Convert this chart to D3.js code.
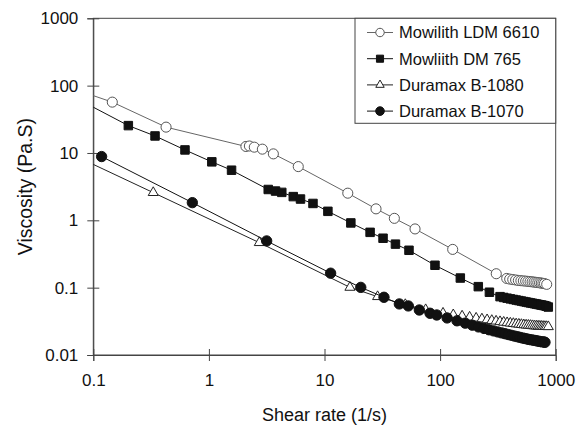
<!DOCTYPE html>
<html>
<head>
<meta charset="utf-8">
<script src="https://cdn.jsdelivr.net/npm/d3@7"></script>
<style>
  body { margin: 0; background: #fff; }
  text { font-family: "Liberation Sans", Arial, Helvetica, sans-serif; }
</style>
</head>
<body>
<svg id="mainsvg" width="587" height="427"></svg>
<script>
// values: [shear rate (1/s), viscosity (Pa.S)]
const ldm6610 = [[0.08,81],[0.146,56.9],[0.426,24.2],[2.09,12.5],[2.24,12.7],[2.47,12.2],[2.90,11.4],[3.61,9.7],[5.93,6.28],[15.9,2.53],[27.9,1.48],[40.2,1.07],[60.7,0.745],[128.5,0.37],[306,0.161],
  [377,0.137],[400,0.134],[425,0.132],[450,0.130],[475,0.128],[500,0.127],[525,0.126],[550,0.125],[575,0.124],[600,0.123],[625,0.122],[650,0.121],[675,0.120],[700,0.119],[725,0.118],[750,0.117],[775,0.116],[800,0.115],[836,0.112]]
const dm765 = [[0.08,58.5],[0.201,25.5],[0.342,17.9],[0.621,11.1],[1.06,7.38],[1.57,5.55],[3.26,2.87],[3.77,2.72],[4.27,2.60],[5.37,2.25],[6.20,2.07],[7.95,1.78],[10.7,1.36],[16.9,0.915],[24.8,0.663],[32.1,0.542],[41.1,0.443],[53.8,0.359],[90.3,0.215],[149.6,0.139],[214,0.1035],[267,0.0855],
  [330,0.0735],[355,0.0715],[380,0.0698],[405,0.0682],[430,0.0668],[455,0.0655],[480,0.0643],[505,0.0632],[530,0.0621],[555,0.0611],[580,0.0602],[605,0.0594],[630,0.0586],[655,0.0578],[680,0.0571],[705,0.0564],[730,0.0557],[755,0.0551],[780,0.0545],[805,0.0539],[830,0.0530],[863,0.0515]]
const b1080 = [[0.08,8.1],[0.330,2.58],[2.73,0.466],[16.6,0.101],[28.8,0.0735],[50,0.056],[75,0.047],
  [106,0.0417],[130,0.0395],[155,0.0378],[180,0.0364],[205,0.0352],[230,0.0342],[255,0.0333],[280,0.0325],[305,0.0318],[330,0.0312],[355,0.0306],[380,0.0301],[405,0.0297],[430,0.0293],[455,0.0289],[480,0.0286],[505,0.0283],[530,0.0280],[555,0.0278],[580,0.0276],[605,0.0274],[630,0.0272],[655,0.0270],[680,0.0269],[705,0.0268],[730,0.0267],[755,0.0266],[780,0.0265],[805,0.0264],[830,0.0264],[863,0.0263]]
const b1070 = [[0.118,8.85],[0.719,1.83],[3.16,0.494],[11.3,0.164],[20.6,0.101],[32.7,0.072],[44.4,0.0573],[53.1,0.0535],[66.1,0.0466],[81.8,0.0417],[93.5,0.0393],
  [115,0.0355],[140,0.0322],[165,0.0297],[190,0.0277],[215,0.0261],[240,0.0248],[265,0.0237],[290,0.0228],[315,0.0220],[340,0.0213],[365,0.0207],[390,0.0201],[415,0.0196],[440,0.0191],[465,0.0187],[490,0.0183],[515,0.0179],[540,0.0176],[565,0.0173],[590,0.0170],[615,0.0168],[640,0.0166],[665,0.0164],[690,0.0162],[715,0.0160],[740,0.0158],[765,0.0157],[790,0.0156],[808,0.01545]]

const seriesNames = ['Mowilith LDM 6610', 'Mowliith DM 765', 'Duramax B-1080', 'Duramax B-1070']
const xTicks = [0.1, 1, 10, 100, 1000]
const yTicks = [0.01, 0.1, 1, 10, 100, 1000]

const margin = {top: 18.3, right: 31.3, bottom: 72, left: 93.3}
const width = 587 - margin.left - margin.right
const height = 427 - margin.top - margin.bottom

const svg = d3.select('#mainsvg')
const g = svg.append('g').attr('transform', `translate(${margin.left},${margin.top})`)

const x = d3.scaleLog().domain([0.1, 1000]).range([0, width])
const y = d3.scaleLog().domain([0.01, 1000]).range([height, 0])

g.append('clipPath').attr('id', 'plotclip')
  .append('rect').attr('x', 0).attr('y', 0).attr('width', width).attr('height', height)

// frame
g.append('rect')
  .attr('x', 0).attr('y', 0).attr('width', width).attr('height', height)
  .attr('fill', 'none').attr('stroke', '#444').attr('stroke-width', 1)

// axes, ticks cross the axis line
const yAxis = g.append('g')
  .call(d3.axisLeft(y).tickValues(yTicks).tickFormat(d => d3.format('')(d)).tickSize(6).tickPadding(9))
yAxis.selectAll('.tick line').attr('x1', 6)
const xAxis = g.append('g').attr('transform', `translate(0,${height})`)
  .call(d3.axisBottom(x).tickValues(xTicks).tickFormat(d => d3.format('')(d)).tickSize(6).tickPadding(13))
xAxis.selectAll('.tick line').attr('y1', -6)
g.selectAll('.domain').attr('stroke', '#444')
g.selectAll('.tick line').attr('stroke', '#444')
g.selectAll('.tick text').attr('font-size', '17px').attr('fill', '#111')
  .style('font-family', '"Liberation Sans", Arial, sans-serif')

// axis titles
svg.append('text')
  .attr('x', margin.left + width / 2).attr('y', 420.5)
  .attr('text-anchor', 'middle').attr('font-size', '18px').attr('fill', '#111')
  .text('Shear rate (1/s)')
svg.append('text')
  .attr('transform', `translate(31.5,${margin.top + height / 2}) rotate(-90)`)
  .attr('text-anchor', 'middle').attr('font-size', '19.5px').attr('fill', '#111')
  .text('Viscosity (Pa.S)')

const styles = [
  {data: ldm6610, line: '#666', stroke: '#555', fill: '#fff', shape: d3.symbolCircle, size: 80},
  {data: dm765, line: '#111', stroke: '#111', fill: '#111', shape: d3.symbolSquare, size: 72},
  {data: b1080, line: '#222', stroke: '#222', fill: '#fff', shape: d3.symbolTriangle, size: 44},
  {data: b1070, line: '#111', stroke: '#111', fill: '#111', shape: d3.symbolCircle, size: 84}
]

const line = d3.line().x(d => x(d[0])).y(d => y(d[1]))
const plot = g.append('g').attr('clip-path', 'url(#plotclip)')

styles.forEach(s => {
  plot.append('path')
    .datum(s.data)
    .attr('d', line)
    .attr('fill', 'none')
    .attr('stroke', s.line)
    .attr('stroke-width', 1)
  plot.append('g').selectAll('path')
    .data(s.data)
    .join('path')
    .attr('transform', d => `translate(${x(d[0])},${y(d[1])})`)
    .attr('d', d3.symbol().type(s.shape).size(s.size))
    .attr('fill', s.fill)
    .attr('stroke', s.stroke)
    .attr('stroke-width', 1)
})

// legend in the top right corner
const lg = svg.append('g')
lg.append('rect')
  .attr('x', 355).attr('y', margin.top).attr('width', 587 - margin.right - 355).attr('height', 105)
  .attr('fill', '#fff').attr('stroke', '#444').attr('stroke-width', 1)
seriesNames.forEach((name, i) => {
  const s = styles[i]
  const ly = 32.5 + i * 26.2
  lg.append('line').attr('x1', 367).attr('x2', 393).attr('y1', ly).attr('y2', ly)
    .attr('stroke', s.line).attr('stroke-width', 1)
  lg.append('path')
    .attr('transform', `translate(380,${ly})`)
    .attr('d', d3.symbol().type(s.shape).size(s.size * 0.7))
    .attr('fill', s.fill).attr('stroke', s.stroke).attr('stroke-width', 1)
  lg.append('text')
    .attr('x', 399).attr('y', ly).attr('dy', '0.36em')
    .attr('font-size', '16.5px').attr('fill', '#111')
    .text(name)
})
</script>
</body>
</html>
